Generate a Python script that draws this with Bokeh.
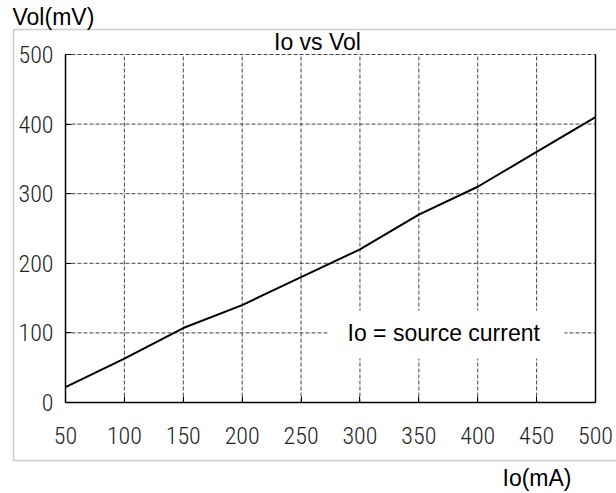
from bokeh.plotting import figure
from bokeh.models import (ColumnDataSource, Label, BoxAnnotation, Range1d, FixedTicker)
from bokeh.embed import file_html
from bokeh.resources import INLINE

# ---- data ----
io_ma = [50, 100, 150, 200, 250, 300, 350, 400, 450, 500]
vol_mv = [22, 63, 107, 140, 180, 220, 270, 310, 360, 410]
x_ticks = [50, 100, 150, 200, 250, 300, 350, 400, 450, 500]
y_ticks = [0, 100, 200, 300, 400, 500]
title_text = "Io vs Vol"
y_label = "Vol(mV)"
x_label = "Io(mA)"
note_text = "Io = source current"

# ---- layout (pixels) ----
W, H = 616, 493
PX_L, PX_R, PX_T, PX_B = 65, 595, 54, 402
X0, X1 = x_ticks[0], x_ticks[-1]
Y0, Y1 = y_ticks[0], y_ticks[-1]
sx = (PX_R - PX_L) / (X1 - X0)
sy = (PX_B - PX_T) / (Y1 - Y0)
x_start = X0 - PX_L / sx
x_end = X1 + (W - PX_R) / sx
y_start = Y0 - (H - PX_B) / sy
y_end = Y1 + PX_T / sy

def dx(px):
    return x_start + px / sx

def dy(py):
    return y_end - py / sy

FONT = "Liberation Sans"
TICK_FONT = "Roboto Condensed Light"

p = figure(width=W, height=H, output_backend="svg", toolbar_location=None,
           x_range=Range1d(x_start, x_end), y_range=Range1d(y_start, y_end),
           min_border=0, min_border_left=0, min_border_right=0,
           min_border_top=0, min_border_bottom=0)
p.outline_line_color = None
p.background_fill_color = "white"
p.border_fill_color = "white"
p.grid.visible = False

# grid lines (dashed)
p.segment(x0=x_ticks[1:-1], y0=[Y0] * (len(x_ticks) - 2), x1=x_ticks[1:-1],
          y1=[Y1] * (len(x_ticks) - 2), line_color="#444444", line_dash="4 2",
          line_width=1)
p.segment(x0=[X0] * (len(y_ticks) - 1), y0=y_ticks[1:], x1=[X1] * (len(y_ticks) - 1),
          y1=y_ticks[1:], line_color="#444444", line_dash="4 2", line_width=1)
# solid right border
p.line(x=[X1, X1], y=[Y0, Y1], line_color="black", line_width=1.5)

src = ColumnDataSource(dict(x=io_ma, y=vol_mv))
p.line("x", "y", source=src, line_color="black", line_width=2)

p.xaxis.fixed_location = Y0
p.xaxis.bounds = (X0, X1)
p.yaxis.fixed_location = X0
p.yaxis.bounds = (Y0, Y1)

for ax, ticks in ((p.xaxis[0], x_ticks), (p.yaxis[0], y_ticks)):
    ax.ticker = FixedTicker(ticks=ticks)
    ax.axis_line_color = "black"
    ax.axis_line_width = 1.5
    ax.major_tick_in = 6
    ax.major_tick_out = 0
    ax.major_tick_line_color = "black"
    ax.minor_tick_line_color = None
    ax.major_label_text_font = TICK_FONT
    ax.major_label_text_font_size = "24px"
    ax.major_label_text_color = "#222222"

p.xaxis.major_label_standoff = 24
p.yaxis.major_label_standoff = 12

# white box behind the note
p.add_layout(BoxAnnotation(left=dx(327), right=dx(564), bottom=dy(358), top=dy(310),
                           fill_color="white", fill_alpha=1.0, line_color=None))

# outer frame
p.add_layout(BoxAnnotation(left=dx(13), right=dx(640), bottom=dy(460), top=dy(29),
                           fill_color=None, fill_alpha=0, line_color="#555555",
                           line_width=1.5))

SHIFT = 10

def lab(px, py, text, align="left", shift=SHIFT):
    p.add_layout(Label(x=dx(px), y=dy(py - shift), text=text, text_font=FONT,
                       text_font_size="23px", text_color="black",
                       text_align=align, text_baseline="alphabetic"))

lab(317, 51, title_text, "center")
lab(12, 27, y_label, shift=11)
lab(502, 487, x_label)
lab(347, 342, note_text)

open("out.html", "w").write(file_html(p, INLINE))
